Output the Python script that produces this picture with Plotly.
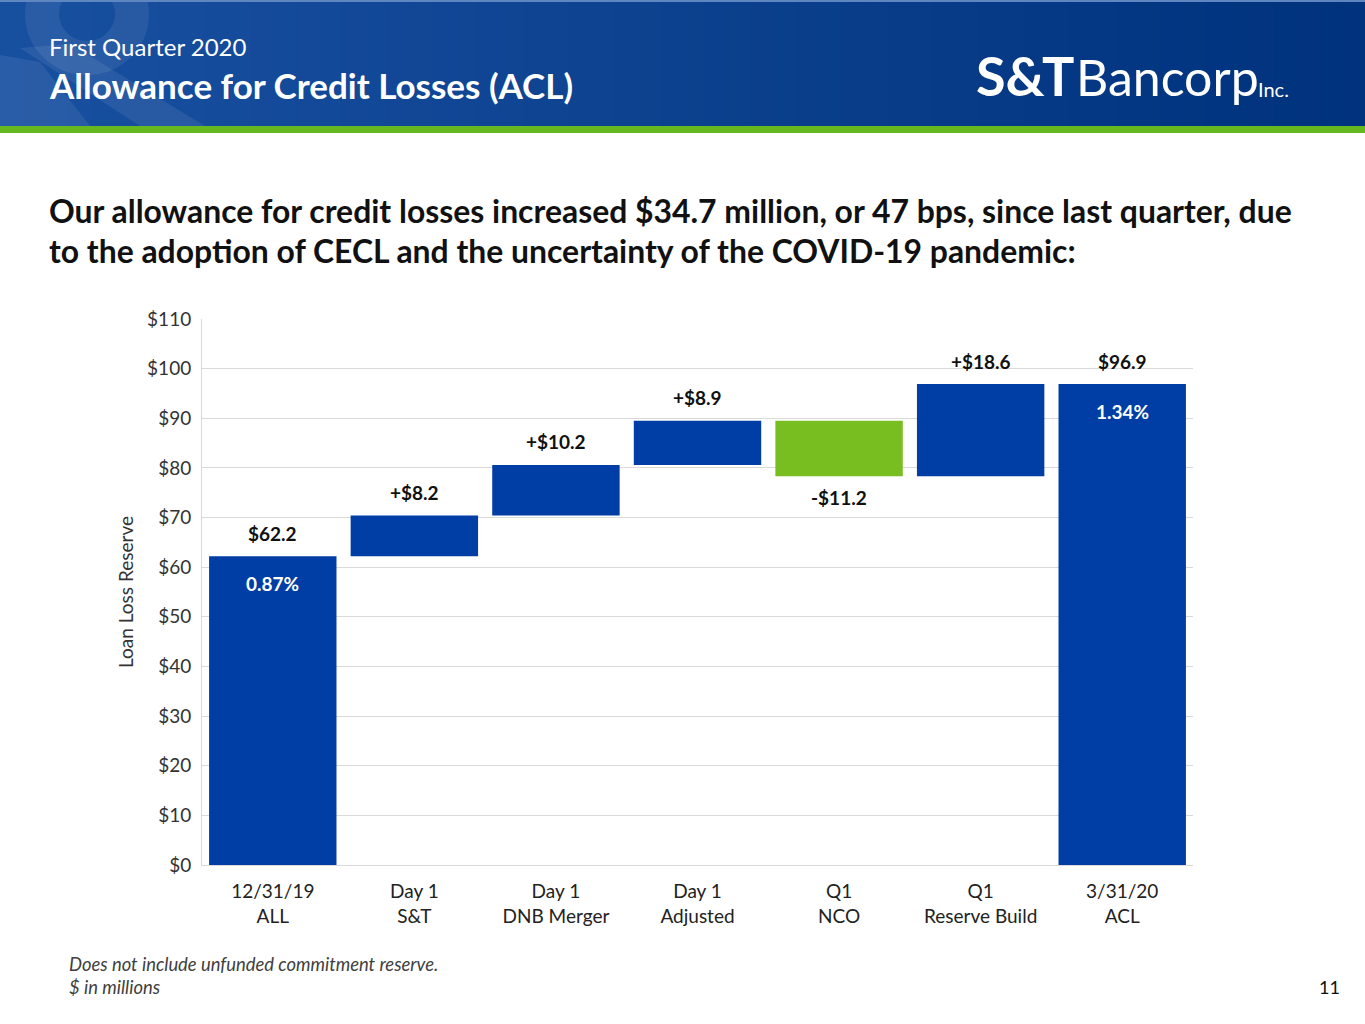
import plotly.graph_objects as go

# ---------------- data ----------------
categories = ["12/31/19<br>ALL", "Day 1<br>S&T", "Day 1<br>DNB Merger", "Day 1<br>Adjusted",
              "Q1<br>NCO", "Q1<br>Reserve Build", "3/31/20<br>ACL"]
measures = ["absolute", "relative", "relative", "relative", "relative", "relative", "total"]
values = [62.2, 8.2, 10.2, 8.9, -11.2, 18.6, 0]
value_labels = ["$62.2", "+$8.2", "+$10.2", "+$8.9", "-$11.2", "+$18.6", "$96.9"]
pct_labels = {0: "0.87%", 6: "1.34%"}
y_ticks = [0, 10, 20, 30, 40, 50, 60, 70, 80, 90, 100, 110]
y_tick_text = ["$" + str(v) for v in y_ticks]

BLUE = "#003DA5"
GREEN = "#78BE20"
FONT = "Lato"

# plot area in pixels
W, H = 1365, 1024
L, R, T, B = 202, 1193, 319, 865
PW, PH = R - L, B - T


def px(x):
    return (x - L) / PW


def py(y):
    return (B - y) / PH


fig = go.Figure(go.Waterfall(
    x=categories, y=values, measure=measures,
    increasing=dict(marker=dict(color=BLUE)),
    decreasing=dict(marker=dict(color=GREEN)),
    totals=dict(marker=dict(color=BLUE)),
    connector=dict(visible=False),
    hoverinfo="skip",
))

# labels computed from the running total
annotations = []
running = 0.0
for i, (m, v) in enumerate(zip(measures, values)):
    if m == "absolute":
        start, end = 0.0, v
        running = v
    elif m == "relative":
        start, end = running, running + v
        running = end
    else:
        start, end = 0.0, running
    top, bot = max(start, end), min(start, end)
    if end >= start:
        annotations.append(dict(x=categories[i], y=top, xref="x", yref="y", text="<b>" + value_labels[i] + "</b>",
                                showarrow=False, yshift=23, font=dict(size=19, color="#111111", family=FONT)))
    else:
        annotations.append(dict(x=categories[i], y=bot, xref="x", yref="y", text="<b>" + value_labels[i] + "</b>",
                                showarrow=False, yshift=-21, font=dict(size=19, color="#111111", family=FONT)))
    if i in pct_labels:
        annotations.append(dict(x=categories[i], y=top, xref="x", yref="y", text="<b>" + pct_labels[i] + "</b>",
                                showarrow=False, yshift=-27, font=dict(size=19, color="white", family=FONT)))

# ---------------- header decoration ----------------
shapes = []
n = 60
c0 = (24, 80, 160)
c1 = (0, 50, 125)
for k in range(n):
    t = k / (n - 1)
    col = tuple(int(round(a + (b - a) * t)) for a, b in zip(c0, c1))
    x0 = W * k / n
    x1 = W * (k + 1) / n + 1
    shapes.append(dict(type="rect", xref="paper", yref="paper", x0=px(x0), x1=px(x1), y0=py(126), y1=py(0),
                       fillcolor="rgb(%d,%d,%d)" % col, line=dict(width=0), layer="below"))
# watermark ampersand (decorative light shapes)
WM = "rgba(255,255,255,0.08)"
shapes.append(dict(type="circle", xref="paper", yref="paper", x0=px(42), x1=px(132), y0=py(58), y1=py(-30),
                   line=dict(color=WM, width=34), fillcolor="rgba(0,0,0,0)", layer="below"))
shapes.append(dict(type="path", xref="paper", yref="paper",
                   path="M %f,%f L %f,%f L %f,%f L %f,%f Z" % (px(20), py(48), px(70), py(44), px(205), py(126),
                                                                px(140), py(126)),
                   fillcolor=WM, line=dict(width=0), layer="below"))
shapes.append(dict(type="path", xref="paper", yref="paper",
                   path="M %f,%f L %f,%f L %f,%f L %f,%f L %f,%f Z" % (px(0), py(55), px(40), py(62), px(90), py(126),
                                                                        px(0), py(126), px(0), py(100)),
                   fillcolor=WM, line=dict(width=0), layer="below"))
shapes.append(dict(type="rect", xref="paper", yref="paper", x0=px(0), x1=px(W), y0=py(133), y1=py(126),
                   fillcolor="#66B821", line=dict(width=0), layer="below"))
shapes.append(dict(type="rect", xref="paper", yref="paper", x0=px(0), x1=px(W), y0=py(2), y1=py(0),
                   fillcolor="#5E86C0", line=dict(width=0), layer="below"))

# header texts
annotations += [
    dict(xref="paper", yref="paper", x=px(47), y=py(46), text="First Quarter 2020", showarrow=False,
         xanchor="left", yanchor="middle", font=dict(size=24, color="white", family=FONT)),
    dict(xref="paper", yref="paper", x=px(47), y=py(85), text="<b>Allowance for Credit Losses (ACL)</b>",
         showarrow=False, xanchor="left", yanchor="middle", font=dict(size=35, color="white", family=FONT)),
    # logo
    dict(xref="paper", yref="paper", x=px(1076), y=py(75), text="<b>S&T</b>", showarrow=False,
         xanchor="right", yanchor="middle", font=dict(size=54, color="white", family=FONT)),
    dict(xref="paper", yref="paper", x=px(1074), y=py(77), text="Bancorp", showarrow=False,
         xanchor="left", yanchor="middle", font=dict(size=50, color="white", family=FONT)),
    dict(xref="paper", yref="paper", x=px(1256), y=py(89), text="Inc.", showarrow=False,
         xanchor="left", yanchor="middle", font=dict(size=20, color="white", family=FONT)),
    # headline
    dict(xref="paper", yref="paper", x=px(47), y=py(211),
         text="<b>Our allowance for credit losses increased $34.7 million, or 47 bps, since last quarter, due</b>",
         showarrow=False, xanchor="left", yanchor="middle", font=dict(size=31.9, color="#111111", family=FONT)),
    dict(xref="paper", yref="paper", x=px(47), y=py(251),
         text="<b>to the adoption of CECL and the uncertainty of the COVID-19 pandemic:</b>",
         showarrow=False, xanchor="left", yanchor="middle", font=dict(size=31.9, color="#111111", family=FONT)),
    # footnotes
    dict(xref="paper", yref="paper", x=px(67), y=py(964), text="<i>Does not include unfunded commitment reserve.</i>",
         showarrow=False, xanchor="left", yanchor="middle", font=dict(size=18.4, color="#404040", family=FONT)),
    dict(xref="paper", yref="paper", x=px(67), y=py(987), text="<i>$ in millions</i>",
         showarrow=False, xanchor="left", yanchor="middle", font=dict(size=18.4, color="#404040", family=FONT)),
    dict(xref="paper", yref="paper", x=px(1342), y=py(987), text="11",
         showarrow=False, xanchor="right", yanchor="middle", font=dict(size=18, color="#111111", family=FONT)),
]

fig.update_layout(
    width=W, height=H,
    margin=dict(l=L, r=W - R, t=T, b=H - B, autoexpand=False),
    paper_bgcolor="white", plot_bgcolor="white",
    showlegend=False,
    waterfallgap=0.1,
    font=dict(family=FONT, color="#333333"),
    shapes=shapes,
    annotations=annotations,
    xaxis=dict(type="category", showgrid=False, showline=True, linecolor="#D9D9D9", linewidth=1,
               ticks="", tickfont=dict(size=19, color="#222222", family=FONT), ticklabelstandoff=9),
    yaxis=dict(range=[0, 110], tickvals=y_ticks, ticktext=y_tick_text, showgrid=True, gridcolor="#D9D9D9",
               gridwidth=1, showline=True, linecolor="#D9D9D9", zeroline=False, ticks="",
               tickfont=dict(size=19, color="#333333", family=FONT), ticklabelstandoff=6,
               title=dict(text="Loan Loss Reserve", font=dict(size=19, color="#333333", family=FONT), standoff=8)),
)

fig.write_html("out.html", config={"displayModeBar": False},
               post_script="document.body.style.margin='0px';")
